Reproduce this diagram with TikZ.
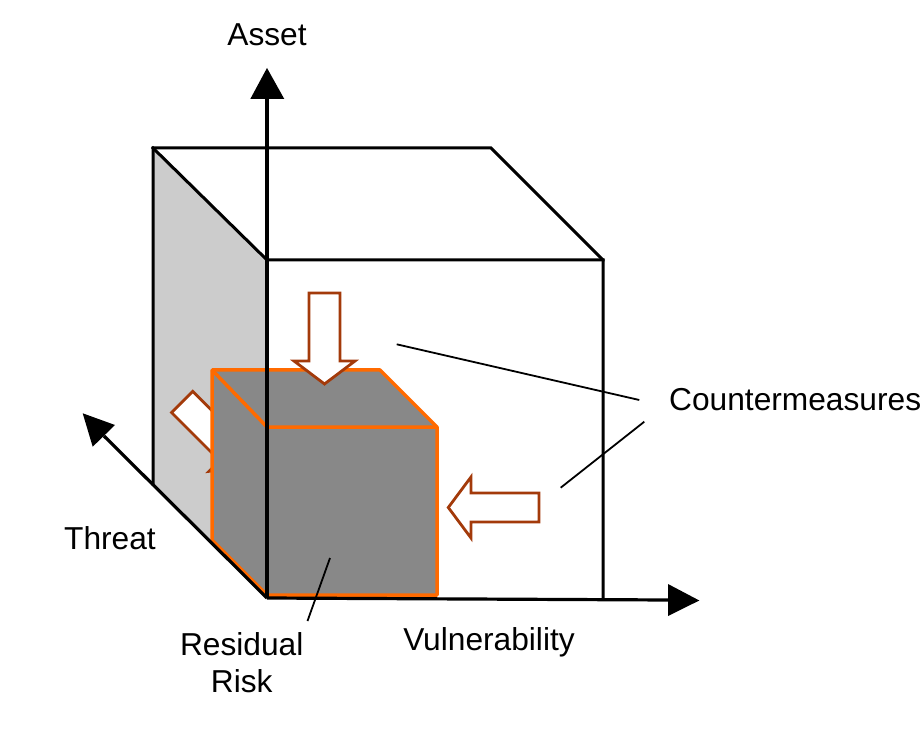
\documentclass[tikz,border=0pt]{standalone}
\usepackage{fontspec}
\setmainfont{Liberation Sans}
\definecolor{facegray}{RGB}{204,204,204}
\definecolor{resorange}{RGB}{255,106,0}
\definecolor{arrowbrown}{RGB}{163,58,10}
\definecolor{checkgray}{RGB}{136,136,136}
\begin{document}
\begin{tikzpicture}[x=1pt,y=-1pt,
  edge/.style={line width=3pt, line join=miter, line cap=rect},
  axisline/.style={line width=3.2pt},
  ahead/.style={fill=black, draw=none},
  orangeedge/.style={draw=resorange, line width=3.5pt, line join=round},
  blockarrow/.style={draw=arrowbrown, fill=white, line width=2.8pt, line join=miter},
  pointer/.style={line width=1.8pt},
  lbl/.style={inner sep=0pt, font=\fontsize{31.7}{38}\selectfont}]

\useasboundingbox (0,0) rectangle (922,738);

% big cube corners
\coordinate (O) at (267,598);
\coordinate (A) at (267,260);
\coordinate (B) at (603,260);
\coordinate (C) at (603,598);
\coordinate (D) at (153,148);
\coordinate (E) at (491,148);
\coordinate (F) at (153,484);

% grey left face
\fill[facegray] (D) -- (A) -- (O) -- (F) -- cycle;
\draw[edge] (F) -- (D) -- (E) -- (B) -- (C);
\draw[edge] (D) -- (A) -- (B);

% diagonal block arrow (partly hidden behind residual cube)
\draw[blockarrow] (192.8,391.4) -- (240.9,439.5) -- (251.5,428.9) -- (246.5,466.3)
  -- (209.1,471.3) -- (219.7,460.7) -- (171.6,412.6) -- cycle;

% residual risk cube
\coordinate (r1) at (212,370);
\coordinate (r2) at (380,370);
\coordinate (r3) at (437,427);
\coordinate (r4) at (437,595);
\coordinate (r5) at (267,595);
\coordinate (r6) at (212,540);
\coordinate (r7) at (267,427);
\fill[checkgray] (r1) -- (r2) -- (r3) -- (r4) -- (r5) -- (r6) -- cycle;
\draw[orangeedge] (r1) -- (r2) -- (r3) -- (r4) -- (r5) -- (r6) -- cycle;
\draw[orangeedge] (r1) -- (r7) -- (r3);
\draw[orangeedge] (r7) -- (r5);

% axes
\coordinate (assetbase) at (267,98);
\coordinate (threatbase) at (103.9,435.9);
\coordinate (vulnbase) at (668,600);
\draw[axisline] (O) -- (assetbase);
\draw[axisline] (O) -- (threatbase);
\draw[axisline] (O) -- (vulnbase);
\fill[ahead] (267,68) -- (284.3,99) -- (250.3,99) -- cycle;
\fill[ahead] (82.7,413.3) -- (115,425) -- (92.7,446.7) -- cycle;
\fill[ahead] (699.3,600.5) -- (668,584) -- (668,616) -- cycle;

% block arrows (countermeasures)
\draw[blockarrow] (309,293) -- (340,293) -- (340,361) -- (355,361) -- (324.5,384)
  -- (294,361) -- (309,361) -- cycle;
\draw[blockarrow] (539,493) -- (539,522) -- (471,522) -- (471,538) -- (448.3,507.5)
  -- (471,477) -- (471,493) -- cycle;

% labels
\node[lbl, anchor=base] (asset) at (267,46) {Asset};
\node[lbl, anchor=base] (threat) at (110,549.5) {Threat};
\node[lbl, anchor=base] (vuln) at (489,650.5) {Vulnerability};
\node[lbl, anchor=base west] (cm) at (669,410.7) {Countermeasures};
\node[lbl, anchor=base] (res1) at (241.7,655) {Residual};
\node[lbl, anchor=base] (res2) at (241.7,692.7) {Risk};

% pointer lines
\coordinate (p1s) at (396.7,344.3);
\coordinate (p1e) at (639.3,400);
\coordinate (p2s) at (644.3,421.7);
\coordinate (p2e) at (560.7,487.7);
\coordinate (p3s) at (330,558);
\coordinate (p3e) at (307.5,621);
\draw[pointer] (p1s) -- (p1e);
\draw[pointer] (p2s) -- (p2e);
\draw[pointer] (p3s) -- (p3e);
\end{tikzpicture}
\end{document}
